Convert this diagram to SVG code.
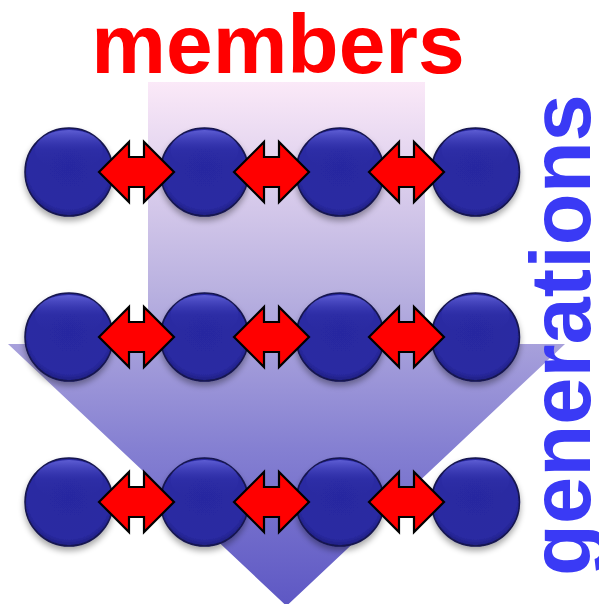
<svg xmlns="http://www.w3.org/2000/svg" xmlns:xlink="http://www.w3.org/1999/xlink" width="599" height="604" viewBox="0 0 599 604">
<style>
.lbl{font-family:"Liberation Sans",Arial,sans-serif;font-weight:bold;}
.dbl{fill:#ff0000;stroke:#000;stroke-width:2.2;stroke-linejoin:miter;}
</style>
<defs>
<linearGradient id="bigArrow" gradientUnits="userSpaceOnUse" x1="0" y1="82" x2="0" y2="604">
<stop offset="0" stop-color="#fbe9f8"/>
<stop offset="0.4" stop-color="#b9b1e0"/>
<stop offset="0.7" stop-color="#8580d2"/>
<stop offset="1" stop-color="#5e58c4"/>
</linearGradient>
<radialGradient id="ball" cx="0.5" cy="0.45" r="0.55">
<stop offset="0" stop-color="#2828a0"/>
<stop offset="0.85" stop-color="#2a2aa2"/>
<stop offset="1" stop-color="#1e1e80"/>
</radialGradient>
<linearGradient id="hl" x1="0" y1="0" x2="0" y2="1">
<stop offset="0" stop-color="#6a6ae0" stop-opacity="0.8"/>
<stop offset="0.5" stop-color="#3a3ab8" stop-opacity="0.2"/>
<stop offset="1" stop-color="#2a2aa2" stop-opacity="0"/>
</linearGradient>
<filter id="sh" x="-30%" y="-30%" width="160%" height="170%">
<feGaussianBlur in="SourceAlpha" stdDeviation="3"/>
<feOffset dy="4" result="b"/>
<feComponentTransfer><feFuncA type="linear" slope="0.35"/></feComponentTransfer>
<feMerge><feMergeNode/><feMergeNode in="SourceGraphic"/></feMerge>
</filter>
<g id="node">
<circle r="44" fill="url(#ball)" stroke="#15154f" stroke-width="1.5" filter="url(#sh)"/>
<ellipse cy="-22" rx="34" ry="20" fill="url(#hl)"/>
</g>
<path id="arr" class="dbl" d="M-37.5,0 L-7.5,-30 L-7.5,-15 L7.5,-15 L7.5,-30 L37.5,0 L7.5,30 L7.5,15 L-7.5,15 L-7.5,30 Z"/>
</defs>
<path id="flow" d="M148,82 L425,82 L425,344 L565,344 L286.5,606 L8,344 L148,344 Z" fill="url(#bigArrow)"/>
<text class="lbl" x="278" y="73" font-size="84" fill="#ff0000" text-anchor="middle">members</text>
<text class="lbl" transform="translate(590,335) rotate(-90)" font-size="85" fill="#3a3af5" text-anchor="middle">generations</text>
<g id="nodes">
<g id="n11"><use xlink:href="#node" x="69" y="172"/></g>
<g id="n12"><use xlink:href="#node" x="204.5" y="172"/></g>
<g id="n13"><use xlink:href="#node" x="340" y="172"/></g>
<g id="n14"><use xlink:href="#node" x="475.5" y="172"/></g>
<g id="n21"><use xlink:href="#node" x="69" y="337"/></g>
<g id="n22"><use xlink:href="#node" x="204.5" y="337"/></g>
<g id="n23"><use xlink:href="#node" x="340" y="337"/></g>
<g id="n24"><use xlink:href="#node" x="475.5" y="337"/></g>
<g id="n31"><use xlink:href="#node" x="69" y="502"/></g>
<g id="n32"><use xlink:href="#node" x="204.5" y="502"/></g>
<g id="n33"><use xlink:href="#node" x="340" y="502"/></g>
<g id="n34"><use xlink:href="#node" x="475.5" y="502"/></g>
</g>
<g id="connectors">
<use xlink:href="#arr" x="136.5" y="172"/>
<use xlink:href="#arr" x="271.5" y="172"/>
<use xlink:href="#arr" x="406.5" y="172"/>
<use xlink:href="#arr" x="136.5" y="337"/>
<use xlink:href="#arr" x="271.5" y="337"/>
<use xlink:href="#arr" x="406.5" y="337"/>
<use xlink:href="#arr" x="136.5" y="502"/>
<use xlink:href="#arr" x="271.5" y="502"/>
<use xlink:href="#arr" x="406.5" y="502"/>
</g>
</svg>
